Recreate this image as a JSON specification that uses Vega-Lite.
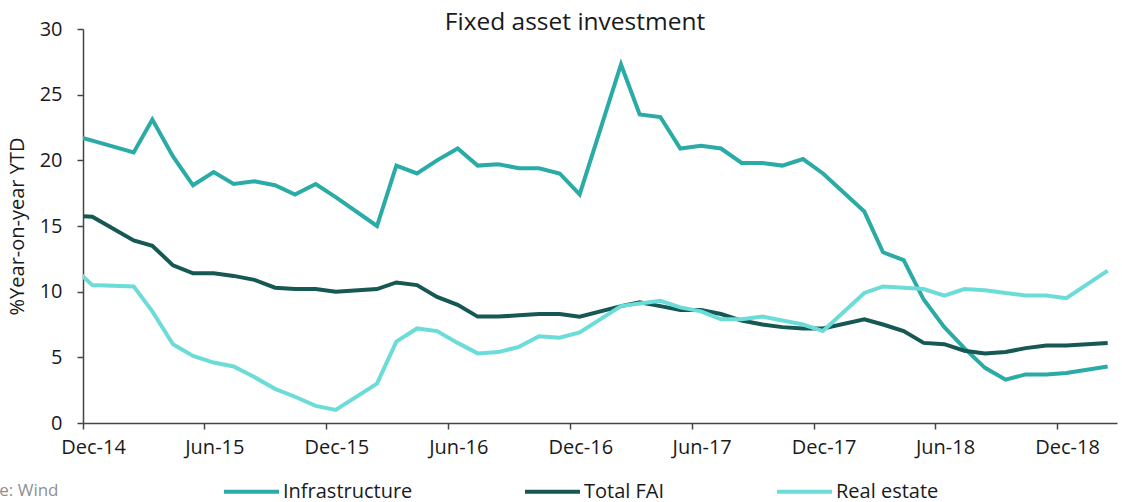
{
  "$schema": "https://vega.github.io/schema/vega-lite/v6.json",
  "width": 1034,
  "height": 394,
  "autosize": {"type": "none"},
  "padding": {"left": 83, "top": 29, "right": 5, "bottom": 79},
  "background": "white",
  "title": {"text": "Fixed asset investment", "anchor": "middle", "dx": -25, "dy": 16, "fontSize": 24.5, "font": "Open Sans", "fontWeight": "normal", "color": "#1a1a1a", "offset": 0},
  "config": {
    "view": {"stroke": null},
    "font": "Open Sans",
    "axis": {"grid": false, "domainColor": "#444444", "tickColor": "#444444", "domainWidth": 1.5, "tickWidth": 1.5, "labelColor": "#1a1a1a", "labelFont": "Open Sans", "labelFontSize": 20, "titleFont": "Open Sans", "titleFontWeight": "normal"}
  },
  "data": {"values": [
    {"date": "2014-11-15", "series": "Infrastructure", "value": 21.9},
    {"date": "2014-12-15", "series": "Infrastructure", "value": 21.5},
    {"date": "2015-02-15", "series": "Infrastructure", "value": 20.6},
    {"date": "2015-03-15", "series": "Infrastructure", "value": 23.1},
    {"date": "2015-04-15", "series": "Infrastructure", "value": 20.3},
    {"date": "2015-05-15", "series": "Infrastructure", "value": 18.1},
    {"date": "2015-06-15", "series": "Infrastructure", "value": 19.1},
    {"date": "2015-07-15", "series": "Infrastructure", "value": 18.2},
    {"date": "2015-08-15", "series": "Infrastructure", "value": 18.4},
    {"date": "2015-09-15", "series": "Infrastructure", "value": 18.1},
    {"date": "2015-10-15", "series": "Infrastructure", "value": 17.4},
    {"date": "2015-11-15", "series": "Infrastructure", "value": 18.2},
    {"date": "2015-12-15", "series": "Infrastructure", "value": 17.2},
    {"date": "2016-02-15", "series": "Infrastructure", "value": 15.0},
    {"date": "2016-03-15", "series": "Infrastructure", "value": 19.6},
    {"date": "2016-04-15", "series": "Infrastructure", "value": 19.0},
    {"date": "2016-05-15", "series": "Infrastructure", "value": 20.0},
    {"date": "2016-06-15", "series": "Infrastructure", "value": 20.9},
    {"date": "2016-07-15", "series": "Infrastructure", "value": 19.6},
    {"date": "2016-08-15", "series": "Infrastructure", "value": 19.7},
    {"date": "2016-09-15", "series": "Infrastructure", "value": 19.4},
    {"date": "2016-10-15", "series": "Infrastructure", "value": 19.4},
    {"date": "2016-11-15", "series": "Infrastructure", "value": 19.0},
    {"date": "2016-12-15", "series": "Infrastructure", "value": 17.4},
    {"date": "2017-02-15", "series": "Infrastructure", "value": 27.3},
    {"date": "2017-03-15", "series": "Infrastructure", "value": 23.5},
    {"date": "2017-04-15", "series": "Infrastructure", "value": 23.3},
    {"date": "2017-05-15", "series": "Infrastructure", "value": 20.9},
    {"date": "2017-06-15", "series": "Infrastructure", "value": 21.1},
    {"date": "2017-07-15", "series": "Infrastructure", "value": 20.9},
    {"date": "2017-08-15", "series": "Infrastructure", "value": 19.8},
    {"date": "2017-09-15", "series": "Infrastructure", "value": 19.8},
    {"date": "2017-10-15", "series": "Infrastructure", "value": 19.6},
    {"date": "2017-11-15", "series": "Infrastructure", "value": 20.1},
    {"date": "2017-12-15", "series": "Infrastructure", "value": 19.0},
    {"date": "2018-02-15", "series": "Infrastructure", "value": 16.1},
    {"date": "2018-03-15", "series": "Infrastructure", "value": 13.0},
    {"date": "2018-04-15", "series": "Infrastructure", "value": 12.4},
    {"date": "2018-05-15", "series": "Infrastructure", "value": 9.4},
    {"date": "2018-06-15", "series": "Infrastructure", "value": 7.3},
    {"date": "2018-07-15", "series": "Infrastructure", "value": 5.7},
    {"date": "2018-08-15", "series": "Infrastructure", "value": 4.2},
    {"date": "2018-09-15", "series": "Infrastructure", "value": 3.3},
    {"date": "2018-10-15", "series": "Infrastructure", "value": 3.7},
    {"date": "2018-11-15", "series": "Infrastructure", "value": 3.7},
    {"date": "2018-12-15", "series": "Infrastructure", "value": 3.8},
    {"date": "2019-02-15", "series": "Infrastructure", "value": 4.3},
    {"date": "2014-11-15", "series": "Total FAI", "value": 15.8},
    {"date": "2014-12-15", "series": "Total FAI", "value": 15.7},
    {"date": "2015-02-15", "series": "Total FAI", "value": 13.9},
    {"date": "2015-03-15", "series": "Total FAI", "value": 13.5},
    {"date": "2015-04-15", "series": "Total FAI", "value": 12.0},
    {"date": "2015-05-15", "series": "Total FAI", "value": 11.4},
    {"date": "2015-06-15", "series": "Total FAI", "value": 11.4},
    {"date": "2015-07-15", "series": "Total FAI", "value": 11.2},
    {"date": "2015-08-15", "series": "Total FAI", "value": 10.9},
    {"date": "2015-09-15", "series": "Total FAI", "value": 10.3},
    {"date": "2015-10-15", "series": "Total FAI", "value": 10.2},
    {"date": "2015-11-15", "series": "Total FAI", "value": 10.2},
    {"date": "2015-12-15", "series": "Total FAI", "value": 10.0},
    {"date": "2016-02-15", "series": "Total FAI", "value": 10.2},
    {"date": "2016-03-15", "series": "Total FAI", "value": 10.7},
    {"date": "2016-04-15", "series": "Total FAI", "value": 10.5},
    {"date": "2016-05-15", "series": "Total FAI", "value": 9.6},
    {"date": "2016-06-15", "series": "Total FAI", "value": 9.0},
    {"date": "2016-07-15", "series": "Total FAI", "value": 8.1},
    {"date": "2016-08-15", "series": "Total FAI", "value": 8.1},
    {"date": "2016-09-15", "series": "Total FAI", "value": 8.2},
    {"date": "2016-10-15", "series": "Total FAI", "value": 8.3},
    {"date": "2016-11-15", "series": "Total FAI", "value": 8.3},
    {"date": "2016-12-15", "series": "Total FAI", "value": 8.1},
    {"date": "2017-02-15", "series": "Total FAI", "value": 8.9},
    {"date": "2017-03-15", "series": "Total FAI", "value": 9.2},
    {"date": "2017-04-15", "series": "Total FAI", "value": 8.9},
    {"date": "2017-05-15", "series": "Total FAI", "value": 8.6},
    {"date": "2017-06-15", "series": "Total FAI", "value": 8.6},
    {"date": "2017-07-15", "series": "Total FAI", "value": 8.3},
    {"date": "2017-08-15", "series": "Total FAI", "value": 7.8},
    {"date": "2017-09-15", "series": "Total FAI", "value": 7.5},
    {"date": "2017-10-15", "series": "Total FAI", "value": 7.3},
    {"date": "2017-11-15", "series": "Total FAI", "value": 7.2},
    {"date": "2017-12-15", "series": "Total FAI", "value": 7.2},
    {"date": "2018-02-15", "series": "Total FAI", "value": 7.9},
    {"date": "2018-03-15", "series": "Total FAI", "value": 7.5},
    {"date": "2018-04-15", "series": "Total FAI", "value": 7.0},
    {"date": "2018-05-15", "series": "Total FAI", "value": 6.1},
    {"date": "2018-06-15", "series": "Total FAI", "value": 6.0},
    {"date": "2018-07-15", "series": "Total FAI", "value": 5.5},
    {"date": "2018-08-15", "series": "Total FAI", "value": 5.3},
    {"date": "2018-09-15", "series": "Total FAI", "value": 5.4},
    {"date": "2018-10-15", "series": "Total FAI", "value": 5.7},
    {"date": "2018-11-15", "series": "Total FAI", "value": 5.9},
    {"date": "2018-12-15", "series": "Total FAI", "value": 5.9},
    {"date": "2019-02-15", "series": "Total FAI", "value": 6.1},
    {"date": "2014-11-15", "series": "Real estate", "value": 11.9},
    {"date": "2014-12-15", "series": "Real estate", "value": 10.5},
    {"date": "2015-02-15", "series": "Real estate", "value": 10.4},
    {"date": "2015-03-15", "series": "Real estate", "value": 8.5},
    {"date": "2015-04-15", "series": "Real estate", "value": 6.0},
    {"date": "2015-05-15", "series": "Real estate", "value": 5.1},
    {"date": "2015-06-15", "series": "Real estate", "value": 4.6},
    {"date": "2015-07-15", "series": "Real estate", "value": 4.3},
    {"date": "2015-08-15", "series": "Real estate", "value": 3.5},
    {"date": "2015-09-15", "series": "Real estate", "value": 2.6},
    {"date": "2015-10-15", "series": "Real estate", "value": 2.0},
    {"date": "2015-11-15", "series": "Real estate", "value": 1.3},
    {"date": "2015-12-15", "series": "Real estate", "value": 1.0},
    {"date": "2016-02-15", "series": "Real estate", "value": 3.0},
    {"date": "2016-03-15", "series": "Real estate", "value": 6.2},
    {"date": "2016-04-15", "series": "Real estate", "value": 7.2},
    {"date": "2016-05-15", "series": "Real estate", "value": 7.0},
    {"date": "2016-06-15", "series": "Real estate", "value": 6.1},
    {"date": "2016-07-15", "series": "Real estate", "value": 5.3},
    {"date": "2016-08-15", "series": "Real estate", "value": 5.4},
    {"date": "2016-09-15", "series": "Real estate", "value": 5.8},
    {"date": "2016-10-15", "series": "Real estate", "value": 6.6},
    {"date": "2016-11-15", "series": "Real estate", "value": 6.5},
    {"date": "2016-12-15", "series": "Real estate", "value": 6.9},
    {"date": "2017-02-15", "series": "Real estate", "value": 8.9},
    {"date": "2017-03-15", "series": "Real estate", "value": 9.1},
    {"date": "2017-04-15", "series": "Real estate", "value": 9.3},
    {"date": "2017-05-15", "series": "Real estate", "value": 8.8},
    {"date": "2017-06-15", "series": "Real estate", "value": 8.5},
    {"date": "2017-07-15", "series": "Real estate", "value": 7.9},
    {"date": "2017-08-15", "series": "Real estate", "value": 7.9},
    {"date": "2017-09-15", "series": "Real estate", "value": 8.1},
    {"date": "2017-10-15", "series": "Real estate", "value": 7.8},
    {"date": "2017-11-15", "series": "Real estate", "value": 7.5},
    {"date": "2017-12-15", "series": "Real estate", "value": 7.0},
    {"date": "2018-02-15", "series": "Real estate", "value": 9.9},
    {"date": "2018-03-15", "series": "Real estate", "value": 10.4},
    {"date": "2018-04-15", "series": "Real estate", "value": 10.3},
    {"date": "2018-05-15", "series": "Real estate", "value": 10.2},
    {"date": "2018-06-15", "series": "Real estate", "value": 9.7},
    {"date": "2018-07-15", "series": "Real estate", "value": 10.2},
    {"date": "2018-08-15", "series": "Real estate", "value": 10.1},
    {"date": "2018-09-15", "series": "Real estate", "value": 9.9},
    {"date": "2018-10-15", "series": "Real estate", "value": 9.7},
    {"date": "2018-11-15", "series": "Real estate", "value": 9.7},
    {"date": "2018-12-15", "series": "Real estate", "value": 9.5},
    {"date": "2019-02-15", "series": "Real estate", "value": 11.6}
  ]},
  "mark": {"type": "line", "strokeWidth": 4, "clip": true, "strokeJoin": "miter"},
  "encoding": {
    "x": {
      "field": "date", "type": "temporal",
      "scale": {"type": "utc", "domain": [{"year": 2014, "month": 12, "date": 1, "utc": true}, {"year": 2019, "month": 3, "date": 1, "utc": true}], "nice": false},
      "axis": {
        "values": [
          {"year": 2014, "month": 12, "date": 1, "utc": true},
          {"year": 2015, "month": 6, "date": 1, "utc": true},
          {"year": 2015, "month": 12, "date": 1, "utc": true},
          {"year": 2016, "month": 6, "date": 1, "utc": true},
          {"year": 2016, "month": 12, "date": 1, "utc": true},
          {"year": 2017, "month": 6, "date": 1, "utc": true},
          {"year": 2017, "month": 12, "date": 1, "utc": true},
          {"year": 2018, "month": 6, "date": 1, "utc": true},
          {"year": 2018, "month": 12, "date": 1, "utc": true}
        ],
        "format": "%b-%y", "tickSize": 6, "labelPadding": 8, "labelOffset": 10, "labelFlush": false, "labelBound": false, "labelOverlap": false,
        "title": "Source: Wind", "titleX": -25, "titleY": 67, "titleAlign": "right", "titleAnchor": null, "titleBaseline": "middle", "titleColor": "#8f8f93", "titleFontSize": 17
      }
    },
    "y": {
      "field": "value", "type": "quantitative",
      "scale": {"domain": [0, 30], "nice": false, "zero": true},
      "axis": {"values": [0, 5, 10, 15, 20, 25, 30], "tickSize": 6, "labelPadding": 15, "title": "%Year-on-year YTD", "titleFontSize": 20, "titleColor": "#1a1a1a", "titleX": -66, "titleBaseline": "middle"}
    },
    "color": {
      "field": "series", "type": "nominal",
      "scale": {"domain": ["Infrastructure", "Total FAI", "Real estate"], "range": ["#2aaba6", "#165854", "#6cdcd8"]},
      "sort": ["Infrastructure", "Total FAI", "Real estate"],
      "legend": {"title": null, "orient": "none", "legendX": 139, "legendY": 433, "direction": "horizontal", "symbolType": "stroke", "symbolSize": 3025, "symbolStrokeWidth": 4, "labelFontSize": 20, "labelFont": "Open Sans", "labelColor": "#1a1a1a", "labelOffset": 2, "columnPadding": 104, "padding": 0, "labelLimit": 400}
    }
  }
}
